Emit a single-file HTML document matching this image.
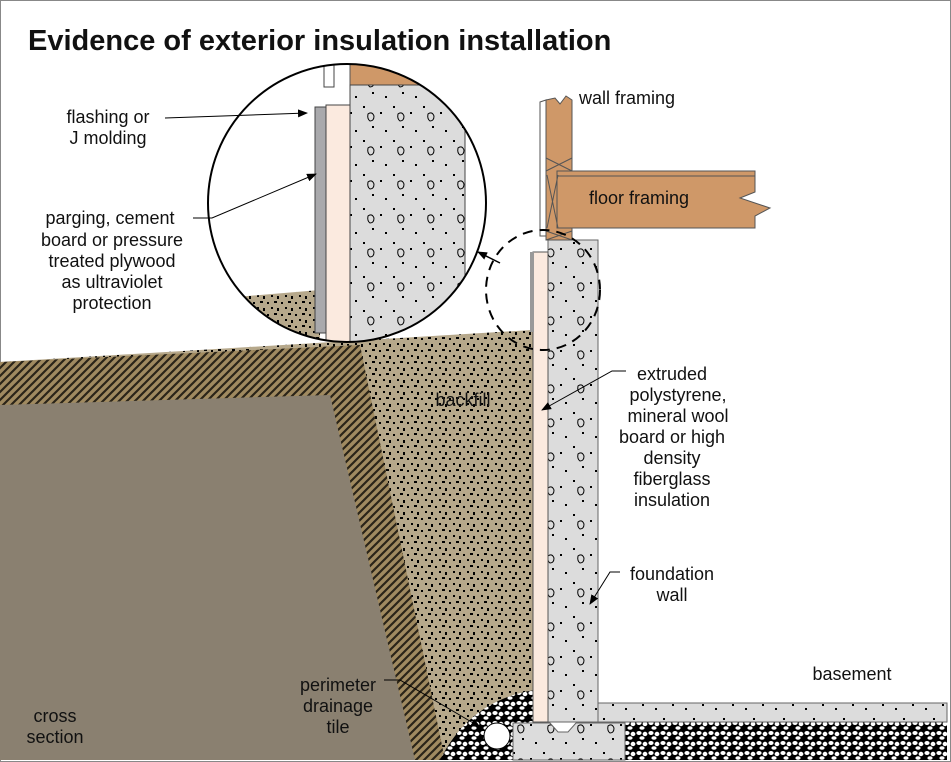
<!DOCTYPE html>
<html><head><style>
html,body{margin:0;padding:0;background:#fff}
svg{display:block}
text{font-family:"Liberation Sans",sans-serif;fill:#111}
</style></head><body>
<svg width="951" height="762" viewBox="0 0 951 762" xmlns="http://www.w3.org/2000/svg">
<defs>
<pattern id="dots" width="14" height="12" patternUnits="userSpaceOnUse">
<rect width="14" height="12" fill="#b6a88b"/>
<rect x="1" y="2" width="2" height="2" fill="#000"/><rect x="8" y="1" width="3" height="2" fill="#000"/>
<rect x="5" y="7" width="2" height="2" fill="#000"/><rect x="11" y="8" width="2" height="3" fill="#000"/>
</pattern>
<pattern id="hatch" width="8" height="8" patternUnits="userSpaceOnUse">
<rect width="8" height="8" fill="#a08a60"/>
<path d="M0 8 L8 0 M-2 2 L2 -2 M6 10 L10 6" stroke="#2a2418" stroke-width="2.2"/>
</pattern>
<pattern id="conc" width="30" height="34" patternUnits="userSpaceOnUse">
<rect width="30" height="34" fill="#dcdcdc"/>
<rect x="3" y="4" width="2" height="2" fill="#000"/><rect x="20" y="10" width="2" height="2" fill="#000"/>
<rect x="12" y="24" width="2" height="2" fill="#000"/><rect x="25" y="28" width="2" height="2" fill="#000"/>
<path d="M8 12 q4 -3 6 2 q0 5 -4 5 q-3 -2 -2 -7z" fill="none" stroke="#000" stroke-width="1"/>
</pattern>
<pattern id="gravel" width="12" height="10" patternUnits="userSpaceOnUse">
<rect width="12" height="10" fill="#000"/>
<ellipse cx="3" cy="3" rx="2.6" ry="2" fill="#fff"/><ellipse cx="9" cy="4" rx="2.4" ry="2.2" fill="#fff"/>
<ellipse cx="6" cy="8" rx="2.6" ry="1.8" fill="#fff"/>
</pattern>
<clipPath id="cc"><circle cx="347" cy="203" r="139"/></clipPath>
<marker id="ar" markerWidth="10" markerHeight="8" refX="9" refY="4" orient="auto" markerUnits="userSpaceOnUse"><path d="M0 0 L10 4 L0 8z" fill="#000"/></marker>
</defs>
<rect x="0.5" y="0.5" width="950" height="761" fill="#fff" stroke="#888"/>
<text x="28" y="50" font-size="29" font-weight="bold">Evidence of exterior insulation installation</text>

<!-- soil -->
<polygon points="0,362 532,330 540,330 540,700 500,760 0,760" fill="url(#dots)"/>
<polygon points="0,362 360,345 445,760 0,760" fill="url(#hatch)"/>
<polygon points="0,405 330,395 415,760 0,760" fill="#8a8070"/>
<!-- drainage gravel -->
<path d="M440 760 Q470 700 535 690 L540 760z" fill="url(#gravel)"/>
<circle cx="497" cy="736" r="13" fill="#fff" stroke="#000"/>
<!-- slab gravel -->
<rect x="625" y="722" width="322" height="38" fill="url(#gravel)"/>
<!-- foundation -->
<rect x="548" y="240" width="50" height="482" fill="url(#conc)" stroke="#666"/>
<rect x="598" y="703" width="349" height="19" fill="url(#conc)" stroke="#666"/>
<path d="M513 723 L550 723 L558 732 L568 732 L576 723 L625 723 L625 760 L513 760z" fill="url(#conc)" stroke="#666"/>
<!-- insulation -->
<rect x="533" y="252" width="15" height="470" fill="#fbeadf" stroke="#555"/>
<rect x="530" y="252" width="4" height="80" fill="#999"/>
<!-- framing -->
<polygon points="540,102 546,100 546,236 540,236" fill="#fff" stroke="#555"/>
<polygon points="546,100 555,98 560,104 566,96 572,100 572,240 546,240" fill="#cf9868" stroke="#555"/>
<polygon points="557,171 755,171 755,192 740,198 770,208 755,216 755,228 557,228" fill="#cf9868" stroke="#555"/>
<line x1="557" y1="176" x2="755" y2="176" stroke="#555"/>
<path d="M546 158 L572 171 M572 158 L546 171 M546 231 L572 240 M572 231 L546 240 M547 175 L558 228 M558 175 L547 228" stroke="#555" fill="none"/>
<text x="579" y="104" font-size="18">wall framing</text>
<text x="589" y="204" font-size="18">floor framing</text>
<ellipse cx="543" cy="290" rx="57" ry="60" fill="none" stroke="#000" stroke-width="2" stroke-dasharray="10,7"/>

<!-- magnified circle -->
<circle cx="347" cy="203" r="139" fill="#fff"/>
<g clip-path="url(#cc)">
<polygon points="200,300 320,290 320,350 200,350" fill="url(#dots)"/>
<rect x="350" y="60" width="80" height="25" fill="#cf9868" stroke="#555"/>
<rect x="350" y="85" width="115" height="270" fill="url(#conc)" stroke="#444"/>
<rect x="326" y="105" width="24" height="250" fill="#fbeadf" stroke="#444"/>
<rect x="315" y="107" width="11" height="226" fill="#a9a9ac" stroke="#444"/>
<rect x="324" y="60" width="10" height="27" fill="#fff" stroke="#444"/>
</g>
<circle cx="347" cy="203" r="139" fill="none" stroke="#000" stroke-width="2"/>
<line x1="500" y1="263" x2="478" y2="252" stroke="#000" stroke-width="1.5" marker-end="url(#ar)"/>

<!-- labels -->
<g font-size="18" text-anchor="middle">
<text x="108" y="123">flashing or</text><text x="108" y="144">J molding</text>
<text x="110" y="224">parging, cement</text><text x="112" y="246">board or pressure</text>
<text x="112" y="267">treated plywood</text><text x="112" y="288">as ultraviolet</text>
<text x="112" y="309">protection</text>
<text x="672" y="380">extruded</text><text x="678" y="401">polystyrene,</text>
<text x="678" y="422">mineral wool</text><text x="672" y="443">board or high</text>
<text x="672" y="464">density</text><text x="672" y="485">fiberglass</text><text x="672" y="506">insulation</text>
<text x="672" y="580">foundation</text><text x="672" y="601">wall</text>
<text x="338" y="691">perimeter</text><text x="338" y="712">drainage</text><text x="338" y="733">tile</text>
<text x="852" y="680">basement</text>
<text x="55" y="722">cross</text><text x="55" y="743">section</text>
<text x="463" y="406">backfill</text>
</g>
<g stroke="#000" stroke-width="1" fill="none">
<path d="M165 118 L307 113" marker-end="url(#ar)"/>
<path d="M193 218 L212 218 L316 174" marker-end="url(#ar)"/>
<path d="M626 371 L612 371 L542 410" marker-end="url(#ar)"/>
<path d="M620 572 L610 572 L590 604" marker-end="url(#ar)"/>
<path d="M384 680 L400 680 L480 727" marker-end="url(#ar)"/>
</g>
</svg>
</body></html>
